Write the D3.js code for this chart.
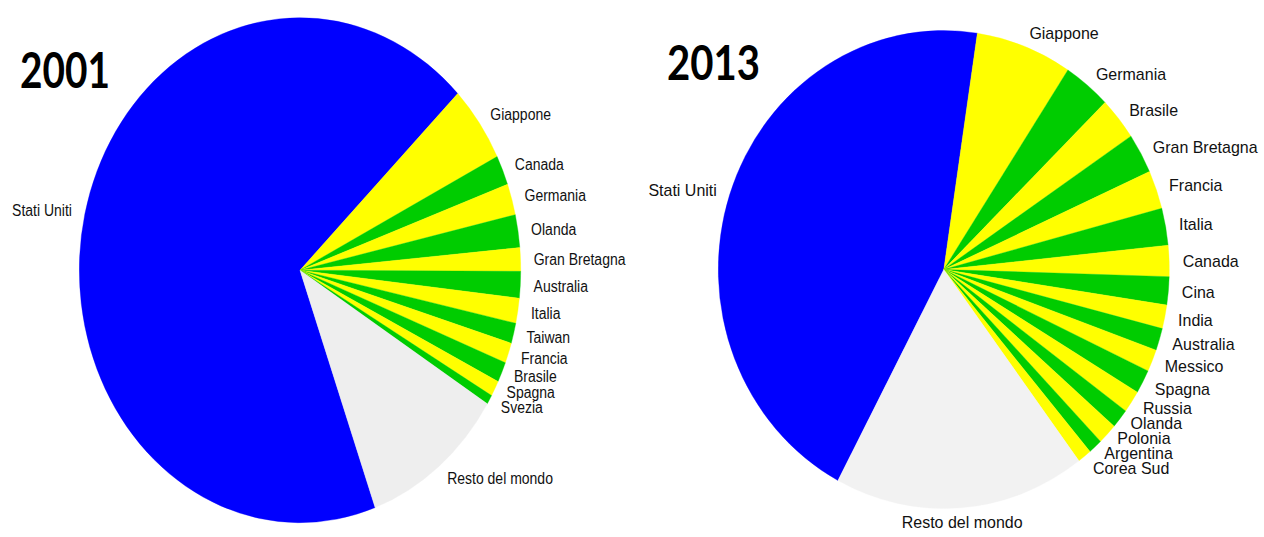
<!DOCTYPE html>
<html>
<head>
<meta charset="utf-8">
<script src="https://cdn.jsdelivr.net/npm/d3@7"></script>
<style>
  html, body { margin: 0; padding: 0; background: #ffffff; }
  svg { display: block; }
</style>
</head>
<body>
<svg id="chart" width="1264" height="537"></svg>
<script>
// Market shares (%) by country, two years
const years = ["2001", "2013"];

const countries2001 = ["Stati Uniti", "Giappone", "Canada", "Germania", "Olanda", "Gran Bretagna",
  "Australia", "Italia", "Taiwan", "Francia", "Brasile", "Spagna", "Svezia", "Resto del mondo"];
const shares2001 = [68.2, 4.9, 1.9, 2.0, 2.1, 1.5, 1.7, 1.6, 1.3, 1.3, 1.3, 1.0, 0.6, 10.6];

const countries2013 = ["Stati Uniti", "Giappone", "Germania", "Brasile", "Gran Bretagna", "Francia",
  "Italia", "Canada", "Cina", "India", "Australia", "Messico", "Spagna", "Russia", "Olanda",
  "Polonia", "Argentina", "Corea Sud", "Resto del mondo"];
const shares2013 = [44.6, 6.9, 3.4, 2.9, 2.7, 2.6, 2.5, 2.1, 1.9, 1.6, 1.5, 1.5, 1.6, 1.5, 1.3,
  1.4, 1.0, 1.0, 18.0];

// Layout of each pie (ellipse radii, start angle in degrees clockwise from 12 o'clock)
const layouts = [
  { cx: 300, cy: 270.2, rx: 220.7, ry: 252.5, startDeg: 160.1, font: 14, gap: 15.5, rest: "#eeeeee",
    titleX: 20, titleY: 88, titleW: 90, titleSize: 50 },
  { cx: 943.8, cy: 269.5, rx: 225.5, ry: 239, startDeg: 208, font: 16, gap: 15, rest: "#f2f2f2",
    titleX: 667, titleY: 80, titleW: 93, titleSize: 48 }
];

const BLUE = "#0000ff", YELLOW = "#ffff00", GREEN = "#00cc00";
const R = 100;          // unit radius; the group is scaled to the ellipse
const LABEL_K = 1.06;   // label distance, as a fraction of the radius

const svg = d3.select("#chart");
const pie = d3.pie().sort(null).value(d => d.value);
const arc = d3.arc().innerRadius(0).outerRadius(R);

function drawPie(names, values, year, L) {
  const data = names.map((n, i) => ({ name: n, value: values[i] }));
  const a0 = L.startDeg * Math.PI / 180;
  const arcs = pie.startAngle(a0).endAngle(a0 + 2 * Math.PI)(data);
  const last = data.length - 1;
  const color = i => i === 0 ? BLUE : (i === last ? L.rest : (i % 2 === 1 ? YELLOW : GREEN));

  const g = svg.append("g")
    .attr("transform", `translate(${L.cx},${L.cy}) scale(${L.rx / R},${L.ry / R})`);
  g.selectAll("path")
    .data(arcs)
    .join("path")
    .attr("d", arc)
    .attr("fill", (d, i) => color(i))
    .attr("stroke", (d, i) => color(i))
    .attr("stroke-width", 0.15);

  // label anchor points on a slightly larger ellipse
  const pts = arcs.map(d => {
    const mid = (d.startAngle + d.endAngle) / 2;
    const s = Math.sin(mid), c = Math.cos(mid);
    return {
      name: d.data.name,
      x: L.cx + LABEL_K * L.rx * s,
      y: L.cy - LABEL_K * L.ry * c,
      anchor: Math.abs(s) < 0.2 ? "middle" : (s > 0 ? "start" : "end"),
      side: s > 0 ? 1 : -1,
      lower: c < 0
    };
  });

  // keep the crowded labels in the lower right apart, stacking upward from the lowest
  const crowded = pts.filter(p => p.side > 0 && p.lower && p.anchor !== "middle")
    .sort((a, b) => b.y - a.y);
  for (let i = 1; i < crowded.length; i++) {
    crowded[i].y = Math.min(crowded[i].y, crowded[i - 1].y - L.gap);
  }

  const sy = L.ry / L.rx;
  svg.append("g")
    .selectAll("text")
    .data(pts)
    .join("text")
    .attr("transform", p => `translate(${p.x},${p.y}) scale(1,${sy})`)
    .attr("text-anchor", p => p.anchor)
    .attr("dominant-baseline", "central")
    .attr("font-family", "'Liberation Sans', Arial, sans-serif")
    .attr("font-size", L.font)
    .attr("fill", "#111")
    .text(p => p.name);

  svg.append("text")
    .attr("x", L.titleX)
    .attr("y", L.titleY)
    .attr("font-family", "Lato, 'Open Sans', sans-serif")
    .attr("font-weight", 700)
    .attr("font-size", L.titleSize)
    .attr("textLength", L.titleW)
    .attr("lengthAdjust", "spacingAndGlyphs")
    .attr("fill", "#000")
    .text(year);
}

drawPie(countries2001, shares2001, years[0], layouts[0]);
drawPie(countries2013, shares2013, years[1], layouts[1]);
</script>
</body>
</html>
